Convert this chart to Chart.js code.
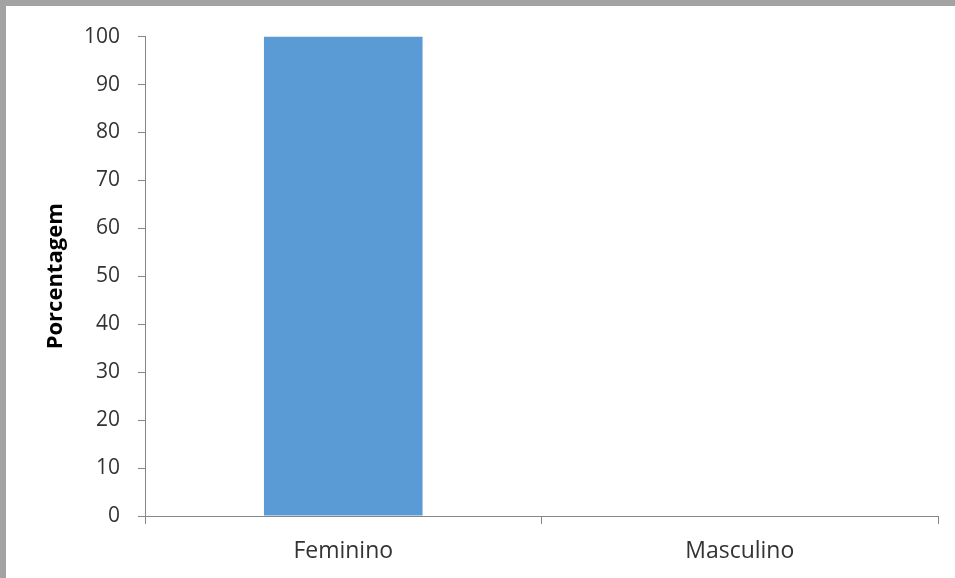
<!DOCTYPE html>
<html>
<head>
<meta charset="utf-8">
<script src="https://cdn.jsdelivr.net/npm/chart.js@4"></script>
<style>
  html, body { margin: 0; padding: 0; background: #a3a3a3; width: 955px; height: 578px; overflow: hidden; }
  #frame { position: absolute; left: 6px; top: 6px; width: 949px; height: 572px; background: #ffffff; }
  canvas { display: block; }
</style>
</head>
<body>
<div id="frame"><canvas id="chart" width="949" height="572"></canvas></div>
<script>
// Distribuição por sexo (%)
const categories = ['Feminino', 'Masculino'];
const percentages = [100, 0];
const yTicks = [0, 10, 20, 30, 40, 50, 60, 70, 80, 90, 100];

const axisColor = '#868686';
const textColor = '#333333';

new Chart(document.getElementById('chart'), {
  type: 'bar',
  data: {
    labels: categories,
    datasets: [{
      data: percentages,
      backgroundColor: '#5b9bd5',
      borderWidth: 0,
      barPercentage: 0.8,
      categoryPercentage: 0.5
    }]
  },
  options: {
    responsive: false,
    animation: false,
    layout: { padding: { left: 0, top: 30, right: 17, bottom: 0 } },
    plugins: { legend: { display: false }, tooltip: { enabled: false } },
    scales: {
      x: {
        grid: { display: true, drawOnChartArea: false, tickLength: 8, color: axisColor, offset: true },
        border: { color: axisColor, width: 1 },
        ticks: { color: textColor, font: { family: 'Open Sans', size: 23 }, padding: 14 },
        afterFit: (s) => { s.height = 62; }
      },
      y: {
        min: 0,
        max: 100,
        afterBuildTicks: (s) => { s.ticks = yTicks.map(v => ({ value: v })); },
        grid: { display: true, drawOnChartArea: false, tickLength: 7, color: axisColor },
        border: { color: axisColor, width: 1 },
        ticks: { color: textColor, font: { family: 'Open Sans', size: 21 }, padding: 18 },
        title: {
          display: true,
          text: 'Porcentagem',
          color: '#000000',
          font: { family: 'Open Sans', size: 22, weight: 'bold' },
          padding: { top: 37, bottom: 0 }
        },
        afterFit: (s) => { s.width = 139; }
      }
    }
  }
});
</script>
</body>
</html>
